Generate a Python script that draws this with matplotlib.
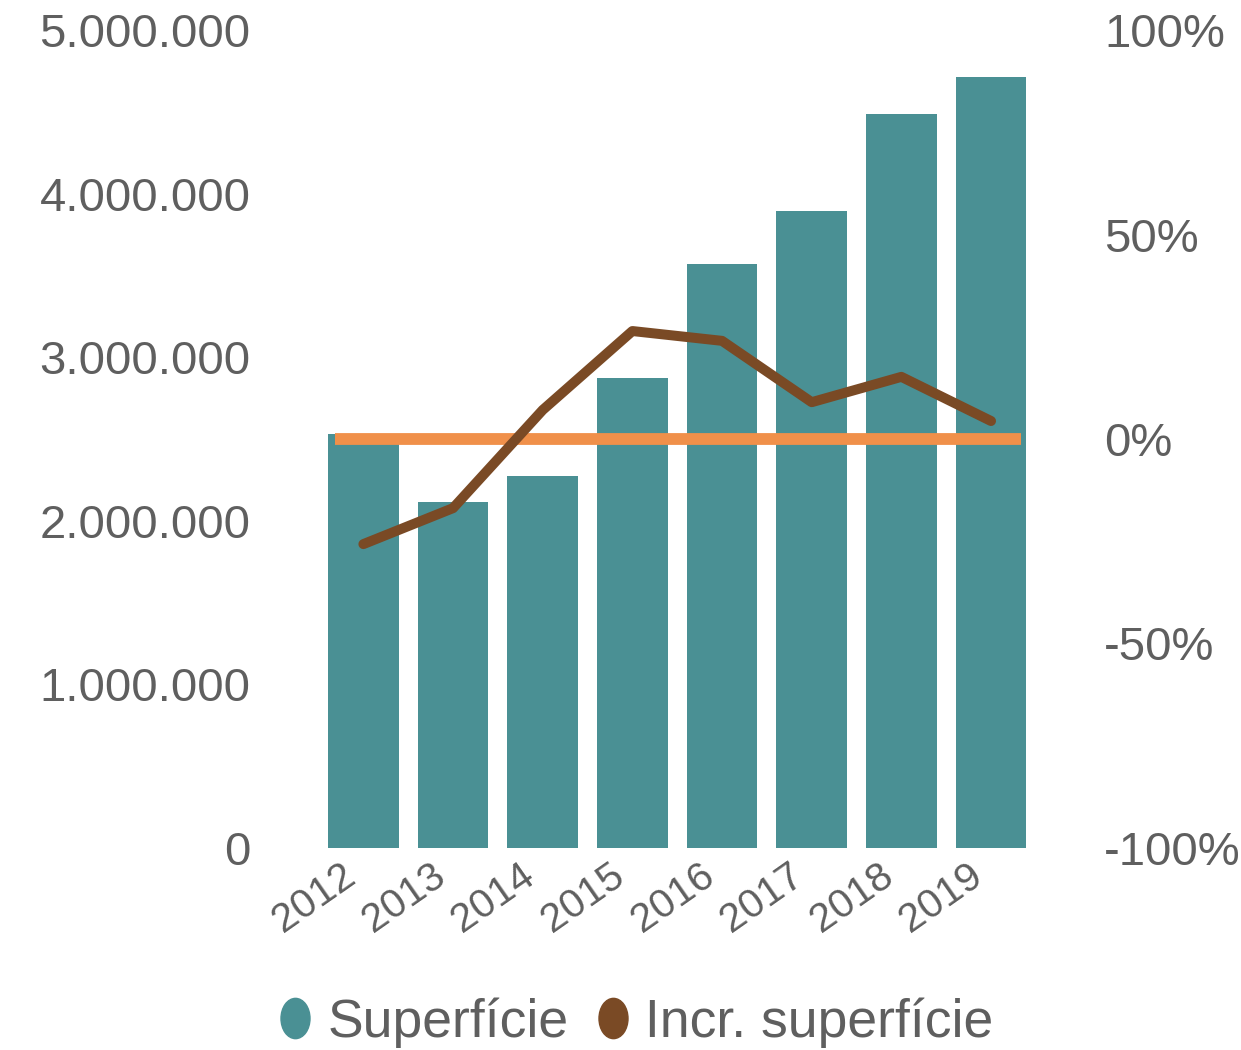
import matplotlib.pyplot as plt
from matplotlib.lines import Line2D
from matplotlib.path import Path
from matplotlib.transforms import Affine2D, ScaledTranslation
from matplotlib.ticker import FuncFormatter
import numpy as np

plt.rcParams['font.family'] = ['Liberation Sans', 'DejaVu Sans']

# data
years = ['2012', '2013', '2014', '2015', '2016', '2017', '2018', '2019']
superficie = [2530000, 2115000, 2274000, 2873000, 3570000, 3894000, 4487000, 4713000]
incr = [-0.257, -0.169, 0.071, 0.264, 0.240, 0.090, 0.152, 0.044]

teal = '#4A9094'
brown = '#7A4A25'
orange = '#F0904A'
grey = '#5F5F5F'

fig = plt.figure(figsize=(12.41, 10.5), dpi=100)
ax = fig.add_axes([0.2567, 0.1924, 0.578, 0.779])
x = np.arange(len(years))

ax.bar(x, superficie, width=0.79, color=teal, zorder=2)
ax.set_xlim(-0.5, len(years) - 0.5)
ax.set_ylim(0, 5000000)
ax.set_yticks(np.arange(0, 5000001, 1000000))
ax.yaxis.set_major_formatter(FuncFormatter(lambda v, p: f'{int(v):,}'.replace(',', '.')))
ax.set_xticks(x)
ax.set_xticklabels(years, rotation=35, ha='right', va='top', rotation_mode='anchor')
ax.tick_params(axis='y', length=0, pad=49, labelsize=34, labelcolor=grey)
ax.tick_params(axis='x', length=0, pad=6, labelsize=29.5, labelcolor=grey)
shift = ScaledTranslation(-0.23, 0, fig.dpi_scale_trans)
for lab in ax.get_xticklabels():
    lab.set_transform(lab.get_transform() + shift)
for s in ax.spines.values():
    s.set_visible(False)

ax2 = ax.twinx()
ax2.set_ylim(-1, 1)
ax2.set_yticks([-1, -0.5, 0, 0.5, 1])
ax2.yaxis.set_major_formatter(FuncFormatter(lambda v, p: f'{v*100:.0f}%'))
ax2.tick_params(axis='y', length=0, pad=49, labelsize=34, labelcolor=grey)
for s in ax2.spines.values():
    s.set_visible(False)

# zero reference line
ax2.hlines(0, -0.32, len(years) - 1 + 0.33, color=orange, linewidth=8.5, zorder=3)
ax2.plot(x, incr, color=brown, linewidth=7.2, solid_capstyle='round',
         solid_joinstyle='round', zorder=4)

oval = Path.unit_circle().transformed(Affine2D().scale(0.72, 1.0))
handles = [Line2D([], [], linestyle='none', marker=oval, markersize=29, color=teal),
           Line2D([], [], linestyle='none', marker=oval, markersize=29, color=brown)]
leg = fig.legend(handles, ['Superfície', 'Incr. superfície'], loc='center',
                 bbox_to_anchor=(0.5103, 0.0262), ncol=2, frameon=False,
                 fontsize=38.5, handletextpad=0.2, columnspacing=0.43,
                 handlelength=0.8, labelcolor=grey, borderpad=0, borderaxespad=0)

fig.savefig('out.png', dpi=100)
